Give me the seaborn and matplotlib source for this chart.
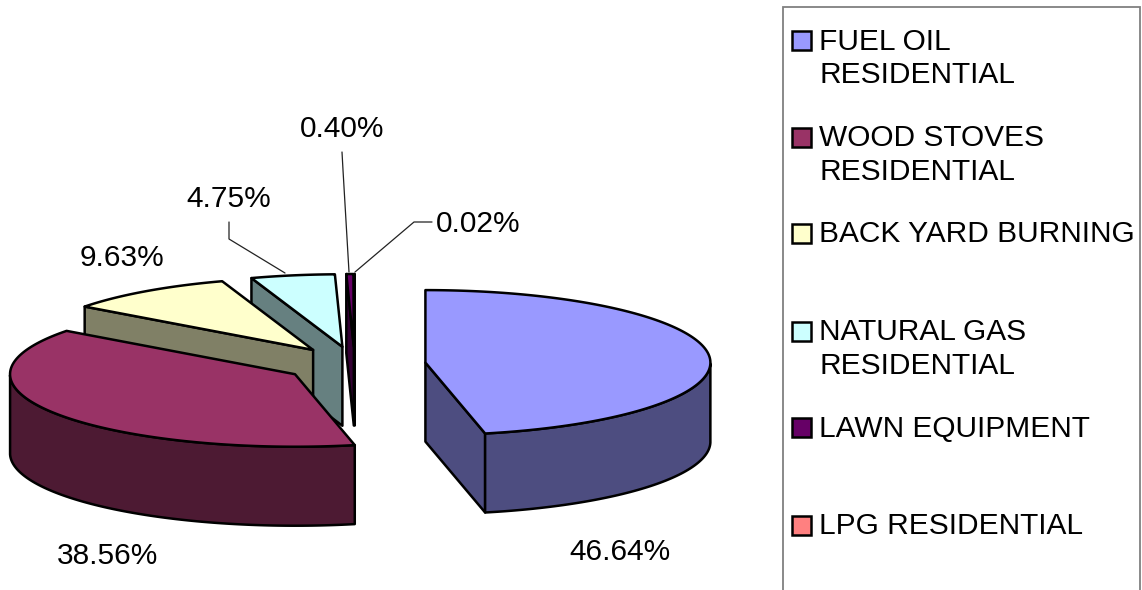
import numpy as np
import matplotlib
matplotlib.use("Agg")
import matplotlib.pyplot as plt
from matplotlib.patches import Rectangle
import seaborn as sns

# Residential emission shares by source category
categories = ["FUEL OIL\nRESIDENTIAL", "WOOD STOVES\nRESIDENTIAL", "BACK YARD BURNING",
              "NATURAL GAS\nRESIDENTIAL", "LAWN EQUIPMENT", "LPG RESIDENTIAL"]
shares = [46.64, 38.56, 9.63, 4.75, 0.40, 0.02]
top_colors = ["#9999FF", "#993366", "#FFFFCC", "#CCFFFF", "#660066", "#FF8080"]
side_colors = ["#4D4D80", "#4D1A33", "#808066", "#668080", "#330033", "#804040"]

# Layout of the tilted pie, in figure pixels
W, H = 1142, 590
CX, CY = 354.8, 364.5
RX, RY = 285.0, 72.5
DEPTH = 79.0
EXPLODE_X, EXPLODE_Y = 71.0, 18.0
EDGE = "#000000"
FONT_SIZE = 21.55

sns.set_theme(style="white")
plt.rcParams["font.family"] = ["Liberation Sans", "DejaVu Sans"]

palette = sns.color_palette(top_colors)
side_palette = sns.color_palette(side_colors)

fig = plt.figure(figsize=(W / 100, H / 100), dpi=100, facecolor="white")
ax = fig.add_axes([0, 0, 1, 1])
ax.set_xlim(0, W)
ax.set_ylim(H, 0)
ax.axis("off")


def rim(apex, degrees):
    """Points on the slice's rim; angles run clockwise from twelve o'clock."""
    t = np.radians(degrees)
    return np.column_stack([apex[0] + RX * np.sin(t), apex[1] - RY * np.cos(t)])


def wall(pts, color, z):
    """Extrude a top-face outline straight down by the pie's depth."""
    lower = pts[::-1] + np.array([0, DEPTH])
    ax.fill(*np.vstack([pts, lower]).T, facecolor=color, edgecolor=EDGE,
            linewidth=1.8, joinstyle="round", zorder=z)


edges = np.concatenate([[0], np.cumsum(shares)]) * 3.6
# Back slices first so that nearer ones cover them
for i in reversed(range(len(shares))):
    a1, a2 = edges[i], edges[i + 1]
    mid = np.radians((a1 + a2) / 2)
    apex = np.array([CX + EXPLODE_X * np.sin(mid), CY - EXPLODE_Y * np.cos(mid)])
    arc_deg = np.linspace(a1, a2, 160)
    arc = rim(apex, arc_deg)
    z = 10 + (len(shares) - i)

    # Cut faces that turn toward the viewer
    if np.sin(np.radians(a1)) < -1e-6:
        wall(np.vstack([apex, arc[0]]), side_palette[i], z)
    if np.sin(np.radians(a2)) > 1e-6:
        wall(np.vstack([apex, arc[-1]]), side_palette[i], z)

    # Curved outer wall, front half of the ellipse only
    front = (arc_deg > 90) & (arc_deg < 270)
    if front.any():
        wall(arc[front], side_palette[i], z)

    ax.fill(*np.vstack([apex, arc]).T, facecolor=palette[i], edgecolor=EDGE,
            linewidth=1.8, joinstyle="round", zorder=z + 0.5)

# Percentage labels
label_font = dict(fontsize=FONT_SIZE, color="black", va="center", zorder=40)
ax.text(620, 552, f"{shares[0]:.2f}%", ha="center", **label_font)
ax.text(108, 556, f"{shares[1]:.2f}%", ha="center", **label_font)
ax.text(122, 257.5, f"{shares[2]:.2f}%", ha="center", **label_font)
ax.text(229, 199, f"{shares[3]:.2f}%", ha="center", **label_font)
ax.text(342.5, 129, f"{shares[4]:.2f}%", ha="center", **label_font)
ax.text(436, 224, f"{shares[5]:.2f}%", ha="left", **label_font)

# Leader lines from the small slices to their labels
leaders = [([229, 229, 285], [222, 239, 273]),
           ([342, 343, 349], [152, 170, 272]),
           ([432, 414, 355], [222, 222, 272])]
for xs, ys in leaders:
    ax.plot(xs, ys, color="#222222", linewidth=0.9, zorder=30)

# Legend panel; its lower edge runs off the bottom of the figure
ax.add_patch(Rectangle((783, 7), 356.5, 584.5, facecolor="white", edgecolor="#808080",
                       linewidth=1.3, zorder=20))
legend_rows = [40, 137, 233, 331, 427, 525]
for name, color, y in zip(categories, palette, legend_rows):
    ax.add_patch(Rectangle((792, y - 9.5), 19, 19, facecolor=color, edgecolor=EDGE,
                           linewidth=1.8, zorder=21))
    for n, line in enumerate(name.split("\n")):
        ax.text(819, y + 1.5 + n * 33.5, line, ha="left", va="center",
                fontsize=FONT_SIZE, color="black", zorder=22)

fig.savefig("out.png", dpi=100, facecolor="white")
